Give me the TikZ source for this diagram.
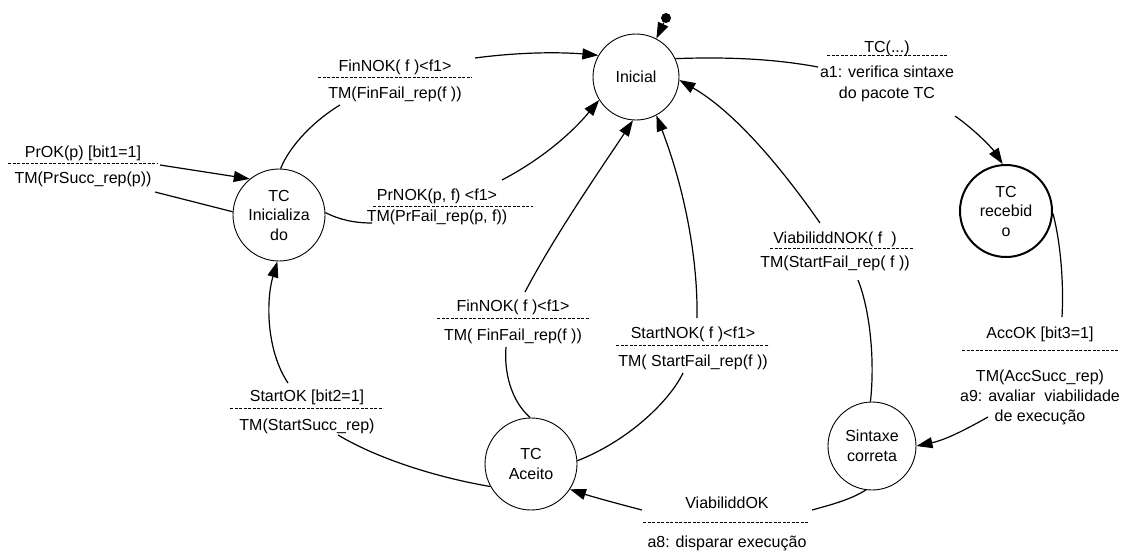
\documentclass[tikz,border=0pt]{standalone}
\usepackage{fontspec}
\setmainfont{Liberation Sans}
\usetikzlibrary{arrows.meta}
\newcommand{\dgfont}{\fontsize{16}{19.5}\selectfont}
\begin{document}
\begin{tikzpicture}[x=1pt,y=-1pt,
  state/.style={draw, circle, line width=0.9pt, inner sep=0pt, align=center, font=\dgfont},
  lbl/.style={anchor=base, inner sep=0pt, font=\dgfont},
  dashrule/.style={line width=0.8pt, dash pattern=on 3.2pt off 1.3pt},
  conn/.style={line width=1.2pt},
  arr/.style={conn, -{Triangle[length=16pt,width=11pt]}}]
\useasboundingbox (0,0) rectangle (1125,552);

% states
\node[state, minimum size=86pt] (ini) at (636,77) {Inicial};
\node[state, minimum size=92pt, line width=2pt] (tcr) at (1006,211) {TC\\recebid\\o};
\node[state, minimum size=88pt] (sc) at (872,446) {Sintaxe\\correta};
\node[state, minimum size=92pt] (tca) at (531,464) {TC\\Aceito};
\node[state, minimum size=92pt] (tci) at (279,215) {TC\\Inicializa\\do};
\node[circle, fill=black, inner sep=0pt, minimum size=10pt] (start) at (666,18) {};

% labels
\node[lbl] (l1a) at (887,52) {TC(...)};
\node[lbl] (l1b) at (887,77) {a1: verifica sintaxe};
\node[lbl] (l1c) at (887,98) {do pacote TC};
\draw[dashrule] (827,55) -- (947,55);

\node[lbl] (l2a) at (1040,338) {AccOK [bit3=1]};
\node[lbl] (l2b) at (1040,381) {TM(AccSucc\_rep)};
\node[lbl] (l2c) at (1040,401) {a9: avaliar\ \ viabilidade};
\node[lbl] (l2d) at (1040,421) {de execução};
\draw[dashrule] (962,350) -- (1118,350);

\node[lbl] (l3a) at (727,508) {ViabiliddOK};
\node[lbl] (l3b) at (727,547) {a8: disparar execução};
\draw[dashrule] (643,522) -- (808,522);

\node[lbl] (l4a) at (307,401) {StartOK [bit2=1]};
\node[lbl] (l4b) at (307,430) {TM(StartSucc\_rep)};
\draw[dashrule] (230,408) -- (383,408);

\node[lbl] (l5a) at (513,311) {FinNOK( f )<f1>};
\node[lbl] (l5b) at (513,340) {TM( FinFail\_rep(f ))};
\draw[dashrule] (437,318) -- (590,318);

\node[lbl] (l6a) at (693,338) {StartNOK( f )<f1>};
\node[lbl] (l6b) at (693,366) {TM( StartFail\_rep(f ))};
\draw[dashrule] (616,345) -- (769,345);

\node[lbl] (l7a) at (835,243) {ViabiliddNOK( f\ \ )};
\node[lbl] (l7b) at (835,267) {TM(StartFail\_rep( f ))};
\draw[dashrule] (770,248) -- (913,248);

\node[lbl] (l8a) at (437,200) {PrNOK(p, f) <f1>};
\node[lbl] (l8b) at (437,221) {TM(PrFail\_rep(p, f))};
\draw[dashrule] (373,206) -- (533,206);

\node[lbl] (l9a) at (395,71) {FinNOK( f )<f1>};
\node[lbl] (l9b) at (395,98) {TM(FinFail\_rep(f ))};
\draw[dashrule] (318,77) -- (472,77);

\node[lbl] (l10a) at (83,157) {PrOK(p) [bit1=1]};
\node[lbl] (l10b) at (83,183) {TM(PrSucc\_rep(p))};
\draw[dashrule] (8,163) -- (157,163);

% label end points
\coordinate (c1a) at (818,67);   \coordinate (c1b) at (955,116);
\coordinate (c2a) at (1062,317); \coordinate (c2b) at (988,417);
\coordinate (c3a) at (812,510);  \coordinate (c3b) at (642,510);
\coordinate (c4a) at (338,435);  \coordinate (c4b) at (288,383);
\coordinate (c5a) at (506,347);  \coordinate (c5b) at (525,292);
\coordinate (c6a) at (683,373);  \coordinate (c6b) at (697,318);
\coordinate (c7a) at (858,280);  \coordinate (c7b) at (820,223);
\coordinate (c8a) at (372,223);  \coordinate (c8b) at (502,180);
\coordinate (c9a) at (340,105);  \coordinate (c9b) at (475,58);
\coordinate (c10a) at (155,192); \coordinate (c10b) at (160,165);

% transitions
\draw[arr] (start) -- (ini.62);

\draw[conn] (ini.25) .. controls (720,57) and (770,58) .. (c1a);
\draw[arr] (c1b) .. controls (975,130) and (992,148) .. (tcr.94);

\draw[conn] (tcr.-3) .. controls (1060,240) and (1064,280) .. (c2a);
\draw[arr] (c2b) .. controls (965,430) and (945,440) .. (sc.0);

\draw[conn] (sc.262) .. controls (850,500) and (830,505) .. (c3a);
\draw[arr] (c3b) .. controls (615,503) and (590,496) .. (tca.327);

\draw[conn] (tca.209) .. controls (440,478) and (380,460) .. (c4a);
\draw[arr] (c4b) .. controls (266,350) and (266,300) .. (tci.268);

\draw[conn] (tca.91) .. controls (510,400) and (504,370) .. (c5a);
\draw[arr] (c5b) .. controls (555,235) and (600,170) .. (ini.266);

\draw[conn] (tca.4) .. controls (630,440) and (670,400) .. (c6a);
\draw[arr] (c6b) .. controls (698,260) and (685,190) .. (ini.298);

\draw[conn] (sc.92) .. controls (875,360) and (870,310) .. (c7a);
\draw[arr] (c7b) .. controls (790,180) and (740,115) .. (ini.-4);

\draw[conn] (tci.3) .. controls (340,220) and (355,223) .. (c8a);
\draw[arr] (c8b) .. controls (540,160) and (570,135) .. (ini.212);

\draw[conn] (tci.88) .. controls (290,145) and (315,120) .. (c9a);
\draw[arr] (c9b) .. controls (520,52) and (560,52) .. (ini.150);

\draw[conn] (tci.176) -- (c10a);
\draw[arr] (c10b) -- (tci.129);
\end{tikzpicture}
\end{document}
